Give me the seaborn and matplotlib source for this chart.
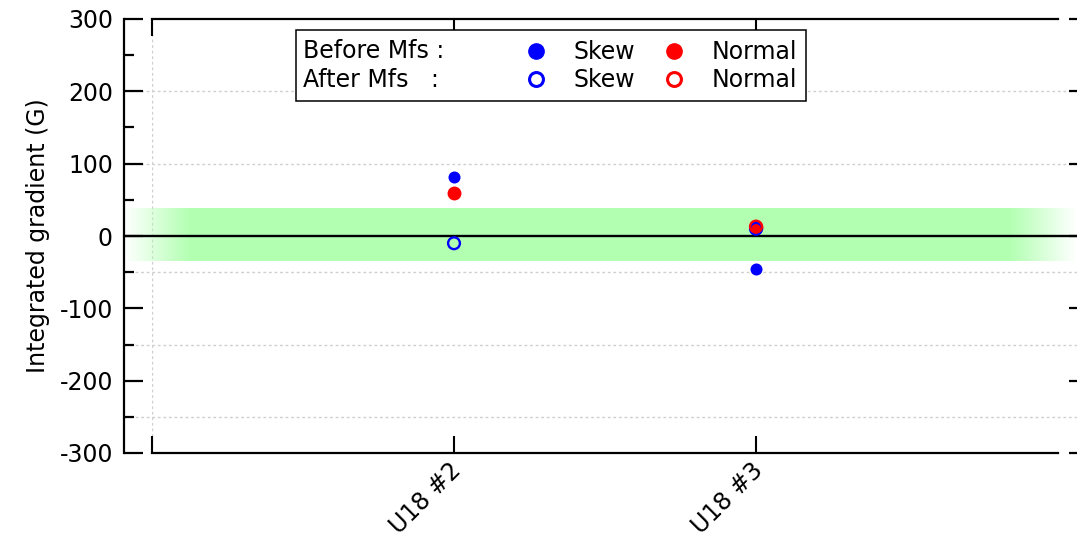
import numpy as np
import pandas as pd
import matplotlib
matplotlib.use("Agg")
import matplotlib.pyplot as plt
import matplotlib.transforms as mtransforms
from matplotlib.lines import Line2D
from matplotlib.patches import Rectangle
import seaborn as sns

# ---------------- data ----------------
categories = ["U18 #2", "U18 #3"]
skew_before = [81, -46]
normal_before = [60, 13]
skew_after = [-10, 10]
normal_after = [np.nan, 13]

y_major = [300, 200, 100, 0, -100, -200, -300]
y_minor = [250, 150, 50, -50, -150, -250]
grid_levels = [200, 100, -50, -150, -250]
tolerance_band = [-35, 38]

legend_rows = ["Before Mfs :", "After Mfs   :"]
legend_labels = ["Skew", "Normal"]
ylabel = "Integrated gradient (G)"

# ---------------- style ----------------
BLUE = "#0000ff"
RED = "#ff0000"
GREEN = (0.70, 1.0, 0.70)
FS = 17

sns.set_style("white")
plt.rcParams["font.family"] = ["DejaVu Sans"]
plt.rcParams["text.color"] = "black"
plt.rcParams["axes.labelcolor"] = "black"
plt.rcParams["xtick.color"] = "black"
plt.rcParams["ytick.color"] = "black"
plt.rcParams["xtick.labelsize"] = FS
plt.rcParams["ytick.labelsize"] = FS

FW, FH, DPI = 1077, 535, 100
fig = plt.figure(figsize=(FW / DPI, FH / DPI), dpi=DPI)
L, R, T, B = 152, 1058, 19, 453
AW = R - L
ax = fig.add_axes([L / FW, 1 - B / FH, AW / FW, (B - T) / FH])
ax.set_facecolor("white")

pos = np.arange(1, len(categories) + 1)
df = pd.DataFrame({
    "pos": pos,
    "skew_before": skew_before,
    "normal_before": normal_before,
    "skew_after": skew_after,
    "normal_after": normal_after,
})

# ---------------- decorations ----------------
left_off = 28   # px, left axis offset
right_off = 30  # px, right axis offset
xa0 = -left_off / AW
xa1 = (FW - L) / AW

# fading green band
n = 953
xs = np.arange(n)
alpha = np.clip(np.minimum(xs / 66.0, (n - 1 - xs) / 67.0), 0, 1)
img = np.zeros((1, n, 4))
img[..., 0] = GREEN[0]
img[..., 1] = GREEN[1]
img[..., 2] = GREEN[2]
img[..., 3] = alpha
ax.imshow(img, extent=(xa0, xa1, tolerance_band[0], tolerance_band[1]),
          transform=ax.get_yaxis_transform(), aspect="auto",
          interpolation="bilinear", clip_on=False, zorder=1)

for g in grid_levels:
    ax.axhline(g, xmin=xa0, xmax=1 + right_off / AW, color="#cfcfcf",
               lw=1.0, ls=(0, (2, 2)), clip_on=False, zorder=0.5)
ax.axvline(0, color="#cfcfcf", lw=1.0, ls=(0, (2, 2)), zorder=0.5)

ax.axhline(0, xmin=xa0, xmax=xa1, color="black", lw=1.7,
           clip_on=False, zorder=2)

# ---------------- data marks ----------------
sns.scatterplot(data=df, x="pos", y="skew_before", color=BLUE, s=75,
                linewidth=0, ax=ax, zorder=5)
sns.scatterplot(data=df, x="pos", y="normal_before", color=RED, s=100,
                linewidth=0, ax=ax, zorder=6)
sns.scatterplot(data=df, x="pos", y="skew_after", facecolor="none",
                edgecolor=BLUE, s=72, linewidth=1.7, ax=ax, zorder=7)
sns.scatterplot(data=df, x="pos", y="normal_after", facecolor="none",
                edgecolor=RED, s=72, linewidth=1.7, ax=ax, zorder=8)

# ---------------- axes ----------------
ax.set_xlim(0, len(categories) + 1)
ax.set_ylim(-300, 300)
ax.set_xticks([0] + list(pos))
ax.set_xticklabels([""] + categories, rotation=45,
                   ha="right", va="top", rotation_mode="anchor")
ax.tick_params(axis="x", which="major", direction="in", length=12,
               width=1.5, top=True, bottom=True, pad=4, labelsize=FS)
off = mtransforms.ScaledTranslation(-5 / DPI, 0, fig.dpi_scale_trans)
for lab in ax.get_xticklabels():
    lab.set_transform(lab.get_transform() + off)

ax.set_yticks(y_major)
ax.set_yticks(y_minor, minor=True)
ax.set_yticklabels([str(v) for v in y_major])
ax.tick_params(axis="y", which="major", direction="in", length=13.7,
               width=1.6, left=True, right=True, pad=8, labelsize=FS)
ax.tick_params(axis="y", which="minor", direction="in", length=7.2,
               width=1.6, left=True, right=False)

for s in ["top", "bottom"]:
    ax.spines[s].set_linewidth(1.6)
    ax.spines[s].set_color("black")
ax.spines["left"].set_position(("outward", left_off * 72 / DPI))
ax.spines["left"].set_linewidth(1.6)
ax.spines["left"].set_color("black")
ax.spines["right"].set_position(("outward", right_off * 72 / DPI))
ax.spines["right"].set_linewidth(1.6)
ax.spines["right"].set_color("black")

ax.set_xlabel("")
ax.set_ylabel(ylabel, fontsize=FS, color="black")
ax.yaxis.set_label_coords(-0.113, 0.5)
ax.grid(False)

# ---------------- legend ----------------
ms = 11
handles = [
    Line2D([], [], ls="none", marker="o", ms=ms, mfc=BLUE, mec=BLUE),
    Line2D([], [], ls="none", marker="o", ms=ms - 1, mfc="none", mec=BLUE, mew=2.2),
    Line2D([], [], ls="none", marker="o", ms=ms, mfc=RED, mec=RED),
    Line2D([], [], ls="none", marker="o", ms=ms - 1, mfc="none", mec=RED, mew=2.2),
]
labels = [legend_labels[0], legend_labels[0], legend_labels[1], legend_labels[1]]
leg = fig.legend(handles, labels, ncol=2, frameon=False, fontsize=FS,
                 loc="center left", bbox_to_anchor=(524 / FW, 1 - 66 / FH),
                 borderpad=0, borderaxespad=0, handlelength=1.0,
                 handletextpad=1.1, columnspacing=1.15, labelspacing=0.15)
for t in leg.get_texts():
    t.set_color("black")

fig.patches.append(Rectangle((296 / FW, 1 - 101 / FH), (806 - 296) / FW,
                             (101 - 30) / FH, transform=fig.transFigure,
                             facecolor="white", edgecolor="black", lw=1.1,
                             zorder=0))
fig.text(303 / FW, 1 - 51 / FH, legend_rows[0], fontsize=FS,
         ha="left", va="center", color="black")
fig.text(303 / FW, 1 - 80 / FH, legend_rows[1], fontsize=FS,
         ha="left", va="center", color="black")

fig.savefig("out.png", dpi=DPI)
